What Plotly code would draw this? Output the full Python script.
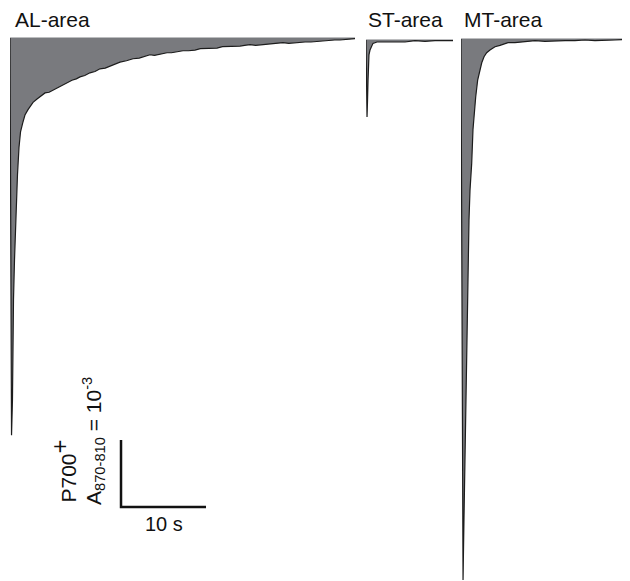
import plotly.graph_objects as go

# Time (s) from the start of each trace, absorbance change A870-810 in units of 1e-3
AL_t = [0, 0.18, 0.29, 0.35, 0.41, 0.53, 0.71, 0.88, 1.06, 1.24, 1.49, 1.76, 2.12, 2.71, 3.18, 3.65, 4.12, 4.6, 5.06, 5.5,
        5.88, 6.3, 6.71, 7.29, 7.8, 8.24, 8.8, 9.41, 10.0, 10.59, 11.2, 11.76, 12.3, 12.94, 13.7, 14.47, 15.2, 15.88, 16.47, 17.0,
        17.65, 18.47, 19.0, 19.41, 19.9, 20.35, 21.0, 21.76, 22.4, 22.94, 23.6, 24.35, 25.0, 25.65, 26.3, 27.06, 27.6, 28.24, 28.9, 29.65,
        30.4, 31.18, 31.7, 32.12, 32.8, 33.53, 34.1, 34.71, 35.4, 36.12, 36.9, 37.65, 38.2, 38.82, 39.4, 40.0, 40.59]
AL_a = [0, -5.93, -5.40, -4.51, -3.91, -3.31, -2.61, -2.04, -1.63, -1.40, -1.27, -1.15, -1.07, -0.96, -0.91, -0.87, -0.82, -0.81, -0.78, -0.75,
        -0.72, -0.70, -0.67, -0.63, -0.61, -0.58, -0.56, -0.52, -0.50, -0.46, -0.45, -0.42, -0.39, -0.36, -0.34, -0.31, -0.30, -0.27, -0.25, -0.26,
        -0.24, -0.22, -0.22, -0.21, -0.20, -0.19, -0.19, -0.18, -0.16, -0.16, -0.15, -0.15, -0.13, -0.13, -0.12, -0.12, -0.11, -0.10, -0.11, -0.10,
        -0.09, -0.08, -0.08, -0.07, -0.08, -0.07, -0.06, -0.06, -0.06, -0.05, -0.04, -0.04, -0.03, -0.03, -0.02, -0.01, -0.01]

ST_t = [0, 0.12, 0.18, 0.24, 0.29, 0.35, 0.47, 0.65, 0.82, 1.29, 2.24, 3.41, 4.59, 5.76, 6.94, 8.12, 9.29, 10.24]
ST_a = [-0.03, -1.18, -0.93, -0.63, -0.40, -0.25, -0.18, -0.12, -0.08, -0.06, -0.06, -0.05, -0.06, -0.04, -0.05, -0.04, -0.04, -0.04]

MT_t = [0, 0.24, 0.35, 0.47, 0.59, 0.71, 0.82, 0.94, 1.06, 1.26, 1.41, 1.59, 1.73, 1.96, 2.24, 2.44, 2.71, 3.02, 3.41, 4.0,
        4.59, 5.53, 6.35, 7.53, 8.71, 9.88, 11.06, 12.24, 13.41, 14.59, 15.76, 16.94, 18.12, 19.65]
MT_a = [-0.015, -8.09, -7.19, -6.30, -5.40, -4.36, -3.31, -2.72, -2.27, -1.87, -1.37, -1.07, -0.88, -0.63, -0.48, -0.37, -0.28, -0.22, -0.18, -0.13,
        -0.11, -0.07, -0.07, -0.06, -0.04, -0.05, -0.04, -0.04, -0.04, -0.03, -0.04, -0.03, -0.03, -0.02]

panel_names = ["AL-area", "ST-area", "MT-area"]
baselines = [0.0, -0.03, -0.015]
panel_span_s = [40.6, 10.24, 19.65]

scale_time_s = 10
scale_abs = 1  # 1e-3
scale_origin = (13.06, -7.0)

FILL = "#797a7e"
LINE = "#1c1c1c"

fig = go.Figure()
series = [(AL_t, AL_a), (ST_t, ST_a), (MT_t, MT_a)]
axes = ["x", "x2", "x3"]
for (t, a), base, span, ax in zip(series, baselines, panel_span_s, axes):
    fig.add_trace(go.Scatter(x=[t[0], t[-1]], y=[base, base], mode="lines",
                             line=dict(color=FILL, width=1), xaxis=ax, yaxis="y",
                             showlegend=False, hoverinfo="skip"))
    fig.add_trace(go.Scatter(x=t, y=a, mode="lines", fill="tonexty", fillcolor=FILL,
                             line=dict(color=LINE, width=1.2), xaxis=ax, yaxis="y",
                             showlegend=False))

# scale bar
x0, y0 = scale_origin
fig.add_trace(go.Scatter(x=[x0, x0, x0 + scale_time_s], y=[y0 + scale_abs, y0, y0],
                         mode="lines", line=dict(color="#111111", width=2.5),
                         xaxis="x", yaxis="y", showlegend=False))

W, H = 630, 581
O = 8  # page body margin offset
PX = 8.5  # px per second
PY = 67   # px per 1e-3
ax_style = dict(visible=False, showgrid=False, zeroline=False, fixedrange=True)
fig.update_layout(
    width=W, height=H, margin=dict(l=0, r=0, t=0, b=0),
    paper_bgcolor="white", plot_bgcolor="white",
    font=dict(family="Liberation Sans, Arial, sans-serif", color="#111111"),
    xaxis=dict(domain=[(10 - O) / W, (355 - O) / W], range=[0, 345 / PX], **ax_style),
    xaxis2=dict(domain=[(366 - O) / W, (453 - O) / W], range=[0, 87 / PX], anchor="y", **ax_style),
    xaxis3=dict(domain=[(461 - O) / W, (628 - O) / W], range=[0, 167 / PX], anchor="y", **ax_style),
    yaxis=dict(domain=[0, 1], range=[-(H - (38 - O)) / PY, (38 - O) / PY], **ax_style),
)

label_x = [13, 366, 462]
for name, lx in zip(panel_names, label_x):
    fig.add_annotation(text=name, x=(lx - O) / W, y=1 - (33 - O) / H, xref="paper", yref="paper",
                       xanchor="left", yanchor="bottom", showarrow=False,
                       font=dict(size=21, color="#111111"))

fig.add_annotation(text=f"{scale_time_s} s", x=x0 + scale_time_s / 2, y=y0, xref="x", yref="y",
                   xanchor="center", yanchor="top", yshift=-4, showarrow=False,
                   font=dict(size=20, color="#111111"))
fig.add_annotation(text="P700<sup><span style='font-size:24px'>+</span></sup>", x=(63 - O) / W,
                   y=1 - (505 - O) / H, xref="paper", yref="paper",
                   xanchor="center", yanchor="bottom", textangle=-90, showarrow=False,
                   font=dict(size=21, color="#111111"))
fig.add_annotation(text="A<sub>870-810</sub> = 10<sup>-3</sup>", x=(93 - O) / W, y=1 - (507 - O) / H,
                   xref="paper", yref="paper", xanchor="center", yanchor="bottom",
                   textangle=-90, showarrow=False, font=dict(size=21, color="#111111"))

fig.write_html("out.html")
